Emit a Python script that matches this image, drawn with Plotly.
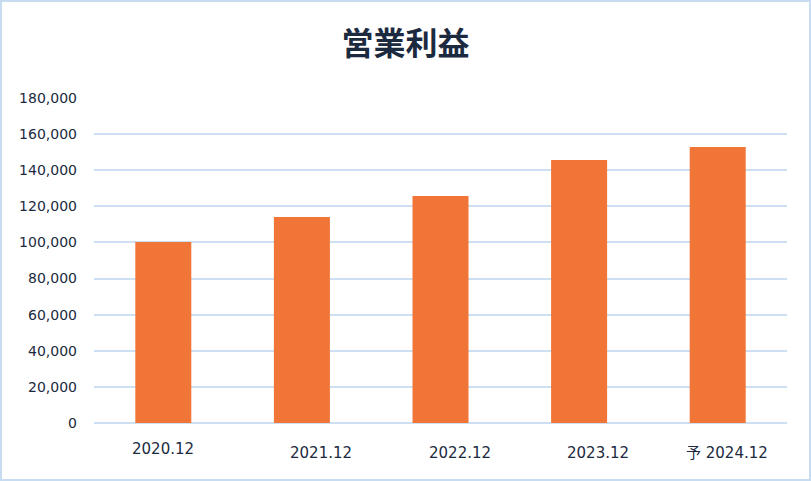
import plotly.graph_objects as go

categories = ["2020.12", "2021.12", "2022.12", "2023.12", "予 2024.12"]
operating_profit = [100300, 114100, 125700, 145700, 152900]
y_tick_values = [0, 20000, 40000, 60000, 80000, 100000, 120000, 140000, 160000, 180000]
y_tick_labels = ["0", "20,000", "40,000", "60,000", "80,000", "100,000",
                 "120,000", "140,000", "160,000", "180,000"]
title_text = "営業利益"

W, H = 811, 481
ML, MR, MT, MB = 94, 24, 98, 58
TEXT = "#1c2a40"
GRID = "#cddff2"
FONT = "DejaVu Sans, Noto Sans CJK JP, sans-serif"

fig = go.Figure()
fig.add_trace(go.Bar(
    x=categories,
    y=operating_profit,
    marker=dict(color="#f07536", line=dict(width=0)),
    hovertemplate="%{x}: %{y:,}<extra></extra>",
))

# x labels as annotations (first centred, rest right-aligned like the reference)
label_style = [("center", 0, 15)] + [("right", 52, 19)] * 4
for i, (cat, (anchor, xs, ys)) in enumerate(zip(categories, label_style)):
    fig.add_annotation(
        x=i, xref="x", y=0, yref="paper", yanchor="top",
        xanchor=anchor, xshift=xs, yshift=-ys,
        text=cat, showarrow=False,
        font=dict(family=FONT, size=15, color=TEXT),
    )

pw = W - ML - MR
ph = H - MT - MB
fig.add_shape(
    type="rect", xref="paper", yref="paper",
    x0=(-ML + 1) / pw, x1=1 + (MR - 1) / pw,
    y0=(-MB + 1) / ph, y1=1 + (MT - 1) / ph,
    line=dict(color="#c8dcf1", width=2), fillcolor="rgba(0,0,0,0)", layer="below",
)

fig.update_layout(
    width=W, height=H,
    margin=dict(l=ML, r=MR, t=MT, b=MB, autoexpand=False),
    paper_bgcolor="white", plot_bgcolor="white",
    title=dict(text=title_text, x=0.5, xref="container", xanchor="center",
               y=1 - 44 / H, yref="container", yanchor="middle",
               font=dict(family="Noto Sans CJK JP", size=32, color=TEXT, weight="bold")),
    bargap=0.596,
    showlegend=False,
    xaxis=dict(type="category", range=[-0.5, len(categories) - 0.5],
               showticklabels=False, showgrid=False, showline=False,
               zeroline=False, ticks=""),
    yaxis=dict(range=[0, 180000], tickvals=y_tick_values, ticktext=y_tick_labels,
               showgrid=True, gridcolor=GRID, gridwidth=1.6,
               zeroline=True, zerolinecolor=GRID, zerolinewidth=1.6,
               showline=False, ticks="", ticklabelstandoff=16,
               tickfont=dict(family=FONT, size=14, color=TEXT)),
)

fig.write_html("out.html", config={"displayModeBar": False},
               post_script="document.body.style.margin='0';document.body.style.overflow='hidden';")
